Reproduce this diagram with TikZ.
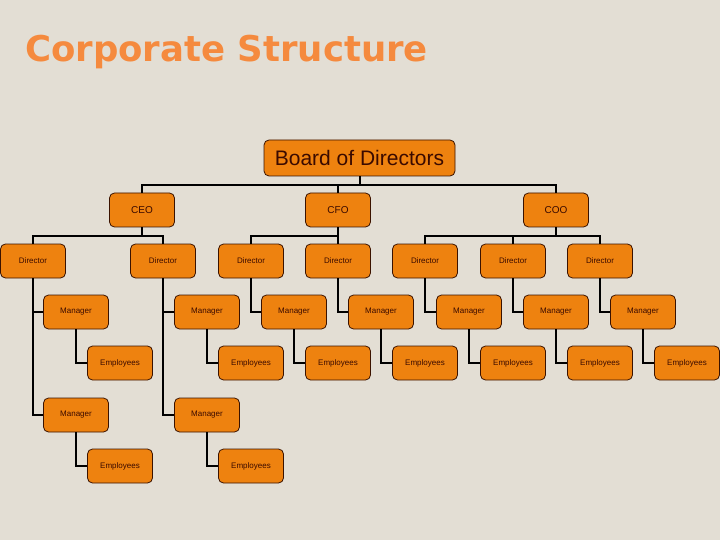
\documentclass[tikz,border=0pt]{standalone}
\usepackage{fontspec}
\setmainfont{Liberation Sans}
\newfontfamily\titlefont{DejaVu Sans}
\definecolor{bgc}{HTML}{E3DED4}
\definecolor{boxc}{HTML}{EE820F}
\definecolor{bordc}{HTML}{3A1200}
\definecolor{txtc}{HTML}{3A0A00}
\definecolor{titlec}{HTML}{F58A3E}
\begin{document}
\begin{tikzpicture}[x=1pt,y=-1pt,
  box/.style={draw=bordc, line width=0.8pt, fill=boxc, rounded corners=5pt,
    minimum width=65pt, minimum height=34pt, inner sep=0pt, text=txtc,
    font=\fontsize{8}{9}\selectfont},
  topbox/.style={box, font=\fontsize{10}{12}\selectfont},
  link/.style={line width=2pt, draw=black}]
\fill[bgc] (0,0) rectangle (720,540);
\useasboundingbox (0,0) rectangle (720,540);
\node[anchor=base west, inner sep=0pt, text=titlec, font=\titlefont\bfseries\fontsize{35.5}{40}\selectfont] (title) at (25,62) {Corporate Structure};

\node[box, minimum width=191pt, minimum height=36pt, font=\fontsize{21}{24}\selectfont] (board) at (359.5,158) {Board of Directors};

\node[topbox] (ceo) at (142,210) {CEO};
\node[topbox] (cfo) at (338,210) {CFO};
\node[topbox] (coo) at (556,210) {COO};

\node[box] (d1) at (33,261) {Director};
\node[box] (d2) at (163,261) {Director};
\node[box] (d3) at (251,261) {Director};
\node[box] (d4) at (338,261) {Director};
\node[box] (d5) at (425,261) {Director};
\node[box] (d6) at (513,261) {Director};
\node[box] (d7) at (600,261) {Director};

\node[box] (m1) at (76,312) {Manager};
\node[box] (m2) at (207,312) {Manager};
\node[box] (m3) at (294,312) {Manager};
\node[box] (m4) at (381,312) {Manager};
\node[box] (m5) at (469,312) {Manager};
\node[box] (m6) at (556,312) {Manager};
\node[box] (m7) at (643,312) {Manager};

\node[box] (e1) at (120,363) {Employees};
\node[box] (e2) at (251,363) {Employees};
\node[box] (e3) at (338,363) {Employees};
\node[box] (e4) at (425,363) {Employees};
\node[box] (e5) at (513,363) {Employees};
\node[box] (e6) at (600,363) {Employees};
\node[box] (e7) at (687,363) {Employees};

\node[box] (ma) at (76,415) {Manager};
\node[box] (mb) at (207,415) {Manager};
\node[box] (ea) at (120,466) {Employees};
\node[box] (eb) at (251,466) {Employees};

\foreach \c in {ceo,cfo,coo} \draw[link] (board.south) -- ++(0,9) -| (\c.north);
\foreach \d in {d1,d2} \draw[link] (ceo.south) -- ++(0,9) -| (\d.north);
\foreach \d in {d3,d4} \draw[link] (cfo.south) -- ++(0,9) -| (\d.north);
\foreach \d in {d5,d6,d7} \draw[link] (coo.south) -- ++(0,9) -| (\d.north);
\foreach \d/\m in {d1/m1,d2/m2,d3/m3,d4/m4,d5/m5,d6/m6,d7/m7,d1/ma,d2/mb}
  \draw[link] (\d.south) |- (\m.west);
\foreach \m/\e in {m1/e1,m2/e2,m3/e3,m4/e4,m5/e5,m6/e6,m7/e7,ma/ea,mb/eb}
  \draw[link] (\m.south) |- (\e.west);
\end{tikzpicture}
\end{document}
